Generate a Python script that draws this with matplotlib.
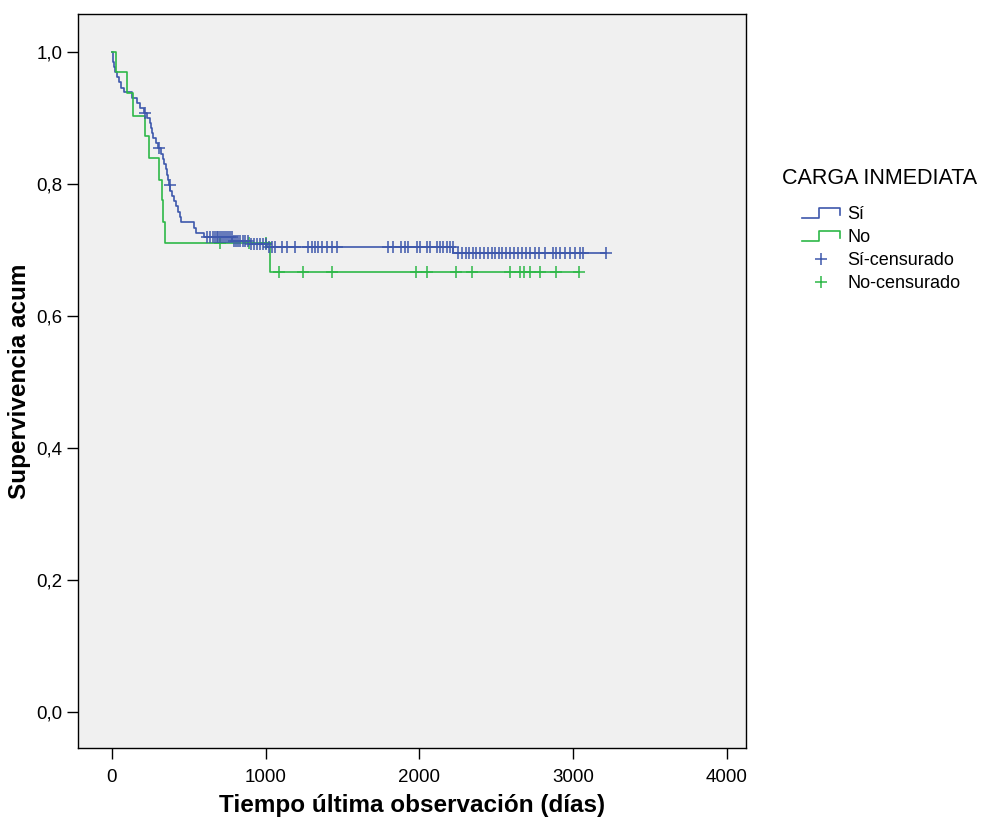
import numpy as np
import matplotlib
matplotlib.use("Agg")
import matplotlib.pyplot as plt
from matplotlib.lines import Line2D
from matplotlib.legend_handler import HandlerBase

# ====================== Data ======================
# Kaplan-Meier steps, group "Sí"
si_event_days = [5, 8, 12, 18, 30, 45, 60, 80, 130, 160, 185, 210, 228, 245,
                 255, 262, 270, 285, 298, 318, 330, 338, 350, 356, 362, 368,
                 380, 392, 402, 415, 428, 440, 452, 535, 545, 600, 780, 900,
                 1010, 2220]
si_event_surv = [0.992, 0.985, 0.977, 0.970, 0.962, 0.954, 0.946, 0.939, 0.931,
                 0.923, 0.915, 0.908, 0.900, 0.892, 0.885, 0.877, 0.869, 0.862,
                 0.854, 0.846, 0.838, 0.830, 0.822, 0.814, 0.806, 0.798, 0.790,
                 0.782, 0.774, 0.766, 0.758, 0.750, 0.742, 0.734, 0.726, 0.719,
                 0.713, 0.709, 0.704, 0.695]
si_censored = [215, 305, 377,
               620, 640, 655, 668, 680, 692, 705, 715, 728, 740, 752, 765, 778,
               792, 806, 820, 835, 850, 868, 885, 905, 925, 945, 965, 985, 1000,
               1020, 1040,
               1060, 1103, 1136, 1190, 1277, 1298, 1320, 1341, 1363, 1396, 1428,
               1461, 1797, 1829, 1883, 1905, 1927, 1981, 2003, 2046, 2068, 2111,
               2132, 2154, 2176, 2198, 2215,
               2250, 2275, 2300, 2325, 2350, 2370, 2395, 2420, 2445, 2470, 2490,
               2515, 2540, 2565, 2590, 2615, 2640, 2665, 2690, 2720, 2750, 2780,
               2815, 2870, 2891, 2913, 2945, 2978, 3010, 3043, 3065, 3215]

# group "No"
no_event_days = [25, 100, 139, 215, 243, 308, 323, 334, 345, 1030]
no_event_surv = [0.969, 0.938, 0.903, 0.872, 0.840, 0.806, 0.776, 0.743, 0.711, 0.667]
no_censored = [702, 893, 1001, 1088, 1240, 1428, 1975, 2050, 2237, 2345, 2588,
               2657, 2679, 2722, 2787, 2887, 3038]

group_labels = ["Sí", "No"]
censor_labels = ["Sí-censurado", "No-censurado"]
x_ticks = [0, 1000, 2000, 3000, 4000]
y_ticks = [0.0, 0.2, 0.4, 0.6, 0.8, 1.0]
y_ticklabels = ["0,0", "0,2", "0,4", "0,6", "0,8", "1,0"]

# ====================== Style ======================
blue = "#3E58AC"
green = "#2EB848"
plt.rcParams["font.family"] = ["Liberation Sans", "DejaVu Sans"]


def km_curve(days, surv, censored):
    # step coordinates from time 0 up to the last observation
    t = np.concatenate([[0], days, [max(censored)]])
    s = np.concatenate([[1.0], surv, [surv[-1]]])
    idx = np.searchsorted(days, censored, side="right")
    cs = np.concatenate([[1.0], surv])[idx]
    return t, s, cs


class StepHandler(HandlerBase):
    # legend icon in the SPSS style: low line, step up, short drop
    def create_artists(self, legend, orig_handle, xdescent, ydescent,
                       width, height, fontsize, trans):
        x0, y0 = -xdescent, -ydescent
        xs = [x0, x0 + 0.45 * width, x0 + 0.45 * width, x0 + width, x0 + width]
        ys = [y0 + 0.1 * height, y0 + 0.1 * height, y0 + 0.9 * height,
              y0 + 0.9 * height, y0 + 0.35 * height]
        ln = Line2D(xs, ys, color=orig_handle.get_color(),
                    lw=orig_handle.get_linewidth(), transform=trans)
        return [ln]


# ====================== Plot ======================
fig = plt.figure(figsize=(9.81, 8.17), dpi=100)
ax = fig.add_axes([78 / 981, 1 - 748 / 817, 668 / 981, 734 / 817])
ax.set_facecolor("#F0F0F0")

t_si, s_si, c_si = km_curve(si_event_days, si_event_surv, si_censored)
t_no, s_no, c_no = km_curve(no_event_days, no_event_surv, no_censored)

l_si, = ax.step(t_si, s_si, where="post", color=blue, lw=1.2)
l_no, = ax.step(t_no, s_no, where="post", color=green, lw=1.2)
m_no, = ax.plot(no_censored, c_no, "+", color=green, ms=9, mew=1.1)
m_si, = ax.plot(si_censored, c_si, "+", color=blue, ms=9, mew=1.1)

ax.set_xlim(-221, 4124)
ax.set_ylim(-0.0545, 1.0576)
ax.set_xticks(x_ticks)
ax.set_yticks(y_ticks)
ax.set_yticklabels(y_ticklabels)
ax.tick_params(axis="both", direction="out", length=8, width=1,
               labelsize=13.5, colors="black")
ax.tick_params(axis="x", pad=7)
ax.tick_params(axis="y", pad=3)
for sp in ax.spines.values():
    sp.set_linewidth(1)

ax.set_xlabel("Tiempo última observación (días)", fontsize=17.5,
              fontweight="bold", labelpad=6)
ax.set_ylabel("Supervivencia acum", fontsize=17.5, fontweight="bold",
              labelpad=4)

# legend outside on the right
fig.text(782 / 981, 1 - 178 / 817, "CARGA INMEDIATA", fontsize=15.5,
         va="center", ha="left")
fig.legend([l_si, l_no, m_si, m_no], group_labels + censor_labels,
           handler_map={l_si: StepHandler(), l_no: StepHandler()},
           loc="upper left", bbox_to_anchor=(802 / 981, 1 - 206 / 817),
           frameon=False, fontsize=13, handlelength=2.1, handletextpad=0.4,
           labelspacing=0.34, borderpad=0, borderaxespad=0)

fig.savefig("out.png", dpi=100)
